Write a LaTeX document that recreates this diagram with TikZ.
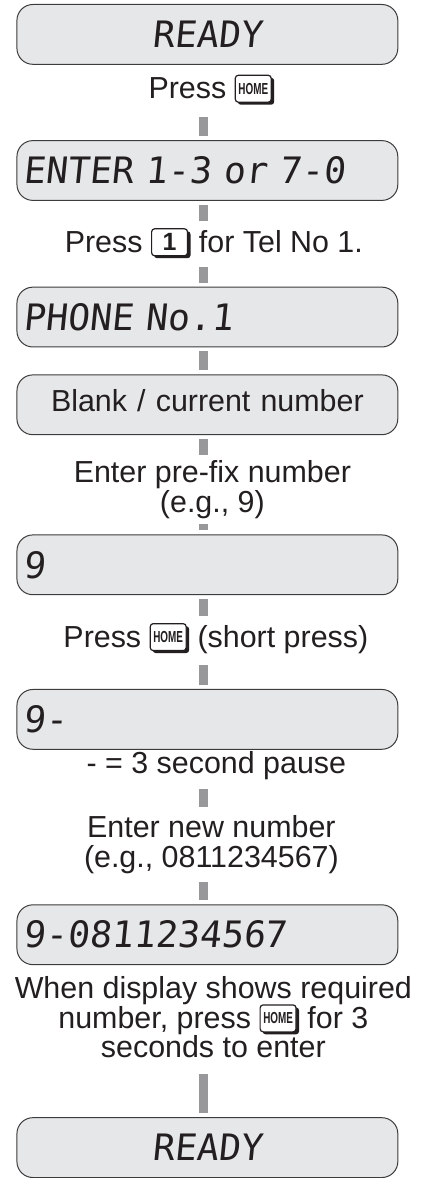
\documentclass[tikz,border=0pt]{standalone}
\usepackage{fontspec}
\setmainfont{Liberation Sans}
\newfontfamily\lcdfont[FakeSlant=0.1]{DejaVu Sans Mono}
\newfontfamily\keyfont[FakeStretch=0.62]{Liberation Sans}
\usetikzlibrary{backgrounds}

\definecolor{screen}{RGB}{230,231,232}
\definecolor{edge}{RGB}{60,60,60}
\definecolor{ink}{RGB}{35,31,32}
\definecolor{barcol}{RGB}{152,152,154}

% a key of the handset, drawn inline on the text baseline
\newcommand{\keycap}[2]{%
  \tikz[baseline=0pt,x=1pt,y=1pt]{%
    \fill[ink,rounded corners=3pt] (2.5,-6) rectangle (#1+3,21);
    \filldraw[fill=white,draw=ink,line width=1.2pt,rounded corners=3pt] (0,-3.5) rectangle (#1,23.5);
    \node[anchor=center,inner sep=0pt,text=ink,align=center,text width=,text height=,text depth=] (keytop) at (#1/2,10) {#2};}}
\newcommand{\homekey}{\keycap{36}{\keyfont\bfseries\fontsize{16}{16}\selectfont HOME}}
\newcommand{\onekey}{\keycap{36}{\bfseries\fontsize{25}{25}\selectfont 1}}

\begin{document}
\begin{tikzpicture}[x=1pt,y=-1pt,
  lcd/.style={draw=edge,fill=screen,line width=1pt,rounded corners=16pt,
    minimum width=382pt,minimum height=60pt,inner xsep=7pt,inner ysep=0pt,
    text width=368pt,align=left,text=ink,font={\lcdfont\fontsize{36.5}{40}\selectfont}},
  lbl/.style={fill=white,inner xsep=3pt,inner ysep=7pt,align=center,text=ink,
    font={\fontsize{30.5}{29.5}\selectfont\lineskiplimit=-20pt}},
  oneline/.style={text height=24pt,text depth=8pt,anchor=base},
  bar/.style={draw=barcol,line width=9pt,shorten <=4pt,shorten >=4pt}]

    \begin{scope}[on background layer]
        \path[fill=white,use as bounding box] (0,0) rectangle (439,1178);
    \end{scope}

    % captions first: their white ground breaks the bar
    \node[lbl,oneline,text depth=11pt] (p1) at (212,99) {Press \homekey};
    \node[lbl,oneline] (p2) at (214.5,253) {Press \onekey{} for Tel No 1.};
    \node[lbl,inner ysep=6pt] (p3) at (213,491) {Enter pre-fix number\\(e.g., 9)};
    \node[lbl,oneline,text depth=11pt] (p4) at (216.5,649) {Press \homekey{} (short press)};
    \node[lbl,oneline] (p5) at (217,776) {- = 3 second pause};
    \node[lbl,inner ysep=8.5pt] (p6) at (212,847) {Enter new number\\(e.g., 0811234567)};
    \node[lbl,inner ysep=16pt] (p7) at (214,1020.5) {When display shows required\\number, press \homekey{} for 3\\seconds to enter};

    % the display panels
    \node[lcd,align=center] (b1) at (208,34.5) {READY};
    \node[lcd] (b2) at (208,171) {ENTER 1-3 or 7-0};
    \node[lcd] (b3) at (208,318) {PHONE No.1};
    \node[lcd,align=center,text depth=9pt,font={\fontsize{30.5}{29.5}\selectfont}] (b4) at (208,406) {Blank / current number};
    \node[lcd] (b5) at (208,566.5) {9};
    \node[lcd] (b6) at (208,721.5) {9-};
    \node[lcd] (b7) at (208,937.5) {9-0811234567};
    \node[lcd,align=center] (b8) at (208,1151) {READY};

    \begin{scope}[on background layer]
        \foreach \a/\b in {b1/b2,b2/b3,b3/b4,b4/b5,b5/b6,b6/b7,b7/b8}
            \draw[bar] ([xshift=-3.5pt]\a.south) -- ([xshift=-3.5pt]\b.north);
    \end{scope}
\end{tikzpicture}
\end{document}
